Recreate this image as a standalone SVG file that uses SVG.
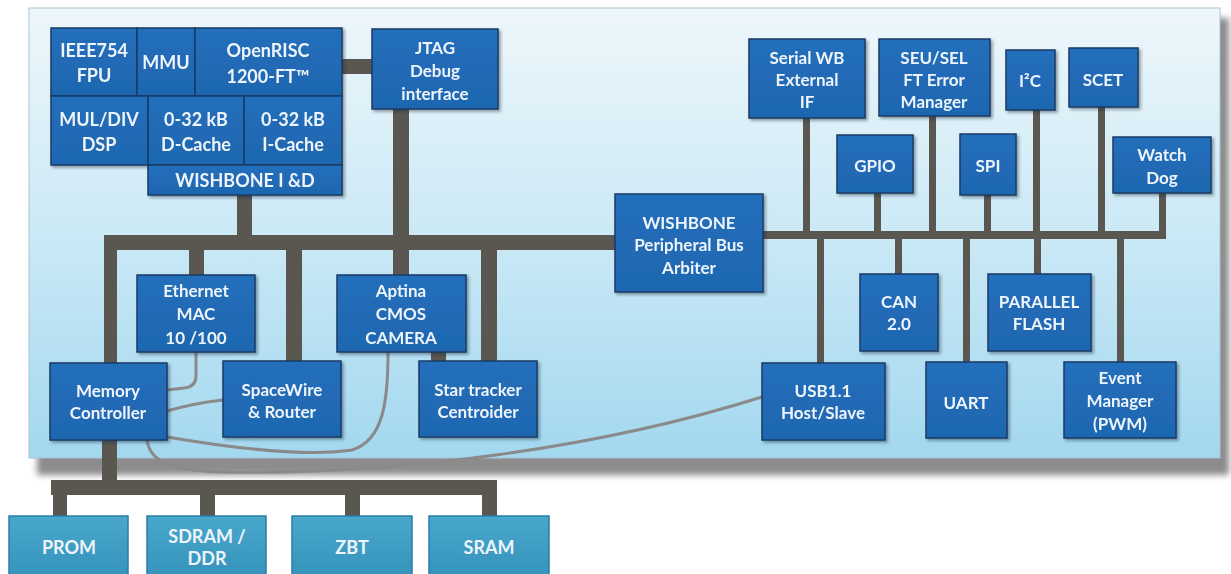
<svg xmlns="http://www.w3.org/2000/svg" width="1231" height="574" viewBox="0 0 1231 574">
  <defs>
    <linearGradient id="panelGrad" x1="0" y1="0" x2="0" y2="1">
      <stop offset="0" stop-color="#eef7fb"/>
      <stop offset="0.5" stop-color="#cbe9f6"/>
      <stop offset="1" stop-color="#a3d8ef"/>
    </linearGradient>
    <linearGradient id="boxGrad" x1="0" y1="0" x2="0" y2="1">
      <stop offset="0" stop-color="#246fbb"/>
      <stop offset="1" stop-color="#1e66b0"/>
    </linearGradient>
    <linearGradient id="memGrad" x1="0" y1="0" x2="0" y2="1">
      <stop offset="0" stop-color="#4aa7cc"/>
      <stop offset="1" stop-color="#3492bb"/>
    </linearGradient>
    <filter id="panelShadow" x="-5%" y="-5%" width="110%" height="115%">
      <feGaussianBlur stdDeviation="3"/>
    </filter>
    <filter id="shadow" x="-10%" y="-10%" width="125%" height="125%">
      <feDropShadow dx="2" dy="2" stdDeviation="1.5" flood-color="#1a2a3a" flood-opacity="0.45"/>
    </filter>
    <style>
      .box { fill: url(#boxGrad); stroke: #1a3a66; stroke-width: 1.5; }
      .mem { fill: url(#memGrad); stroke: #2a7ea5; stroke-width: 1.5; }
      .t { font-family: Lato, "Liberation Sans", sans-serif; font-weight: 700; font-size: 17px; fill: #eef4fb; text-anchor: middle; dominant-baseline: central; }
      .tc { font-size: 18px; }
      .tm { font-size: 18px; }
      .bus { fill: #5a5650; }
      .wire { fill: none; stroke: #8a8a8a; stroke-width: 3; stroke-linecap: round; }
    </style>
  </defs>

  <rect width="1231" height="574" fill="#ffffff"/>

  <!-- chip panel -->
  <rect x="37" y="18" width="1192" height="457" fill="#8c8c8c" filter="url(#panelShadow)"/>
  <rect x="29" y="8" width="1191" height="450" fill="url(#panelGrad)" stroke="#a9c3d2" stroke-width="1"/>

  <!-- bus bars and wires -->
  <g id="connectors">
    <!-- CPU to JTAG -->
    <rect class="bus" x="342" y="59" width="30" height="15"/>
    <!-- WISHBONE I&D drop -->
    <rect class="bus" x="237" y="195" width="15" height="42"/>
    <!-- JTAG down to camera -->
    <rect class="bus" x="393" y="109" width="16" height="166"/>
    <!-- main bus -->
    <rect class="bus" x="104" y="235" width="511" height="15"/>
    <rect class="bus" x="104" y="235" width="13" height="128"/>
    <rect class="bus" x="189" y="248" width="15" height="27"/>
    <rect class="bus" x="286" y="248" width="16" height="113"/>
    <rect class="bus" x="481" y="248" width="16" height="113"/>
    <rect class="bus" x="431" y="350" width="15" height="12"/>
    <!-- peripheral bus -->
    <rect class="bus" x="763" y="231" width="403" height="8"/>
    <rect class="bus" x="803" y="118" width="7" height="118"/>
    <rect class="bus" x="874" y="193" width="7" height="43"/>
    <rect class="bus" x="929" y="116" width="7" height="120"/>
    <rect class="bus" x="984" y="195" width="7" height="41"/>
    <rect class="bus" x="1033" y="110" width="7" height="126"/>
    <rect class="bus" x="1098" y="107" width="7" height="129"/>
    <rect class="bus" x="1159" y="193" width="7" height="43"/>
    <rect class="bus" x="817" y="236" width="7" height="127"/>
    <rect class="bus" x="895" y="236" width="7" height="38"/>
    <rect class="bus" x="963" y="236" width="7" height="126"/>
    <rect class="bus" x="1034" y="236" width="7" height="38"/>
    <rect class="bus" x="1117" y="236" width="7" height="126"/>
    <!-- external memory bus -->
    <rect class="bus" x="102" y="440" width="15" height="42"/>
    <rect class="bus" x="51" y="480" width="446" height="15"/>
    <rect class="bus" x="53" y="493" width="14" height="23"/>
    <rect class="bus" x="200" y="493" width="15" height="23"/>
    <rect class="bus" x="345" y="493" width="15" height="23"/>
    <rect class="bus" x="482" y="493" width="15" height="23"/>
    <!-- direct links to memory controller -->
    <path class="wire" d="M196,352 L196,376 Q196,387 184,388 L167,390"/>
    <path class="wire" d="M167,411 Q195,403 223,400"/>
    <path class="wire" d="M388,352 C388,400 384,440 352,450 C300,458 220,446 167,437"/>
    <path class="wire" d="M147,440 C150,460 166,470 220,472 C400,475 600,448 762,397"/>
  </g>

  <!-- processor core -->
  <g id="cpu" filter="url(#shadow)">
    <g id="fpu"><rect class="box" x="51" y="28" width="86" height="68"/>
      <text class="t tc" x="94" y="50">IEEE754</text><text class="t tc" x="94" y="75">FPU</text></g>
    <g id="mmu"><rect class="box" x="137" y="28" width="58" height="68"/>
      <text class="t tc" x="166" y="62">MMU</text></g>
    <g id="openrisc"><rect class="box" x="195" y="28" width="147" height="68"/>
      <text class="t tc" x="268" y="50">OpenRISC</text><text class="t tc" x="268" y="76">1200-FT™</text></g>
    <g id="muldiv"><rect class="box" x="51" y="96" width="97" height="69"/>
      <text class="t tc" x="99" y="119">MUL/DIV</text><text class="t tc" x="99" y="144">DSP</text></g>
    <g id="dcache"><rect class="box" x="148" y="96" width="96" height="69"/>
      <text class="t tc" x="196" y="119">0-32 kB</text><text class="t tc" x="196" y="144">D-Cache</text></g>
    <g id="icache"><rect class="box" x="244" y="96" width="98" height="69"/>
      <text class="t tc" x="293" y="119">0-32 kB</text><text class="t tc" x="293" y="144">I-Cache</text></g>
    <g id="wishbone-id"><rect class="box" x="148" y="165" width="194" height="30"/>
      <text class="t tc" x="245" y="180">WISHBONE I &amp;D</text></g>
  </g>

  <g id="jtag" filter="url(#shadow)"><rect class="box" x="372" y="29" width="126" height="80"/>
    <text class="t" x="435" y="47">JTAG</text><text class="t" x="435" y="70">Debug</text><text class="t" x="435" y="93">interface</text></g>

  <g id="arbiter" filter="url(#shadow)"><rect class="box" x="615" y="194" width="148" height="98"/>
    <text class="t" x="689" y="222">WISHBONE</text><text class="t" x="689" y="244">Peripheral Bus</text><text class="t" x="689" y="267">Arbiter</text></g>

  <g id="serial-wb" filter="url(#shadow)"><rect class="box" x="749" y="39" width="116" height="79"/>
    <text class="t" x="807" y="57">Serial WB</text><text class="t" x="807" y="79">External</text><text class="t" x="807" y="101">IF</text></g>
  <g id="seu-sel" filter="url(#shadow)"><rect class="box" x="879" y="39" width="111" height="77"/>
    <text class="t" x="934" y="57">SEU/SEL</text><text class="t" x="934" y="79">FT Error</text><text class="t" x="934" y="101">Manager</text></g>
  <g id="i2c" filter="url(#shadow)"><rect class="box" x="1006" y="50" width="49" height="60"/>
    <text class="t" x="1030" y="80">I²C</text></g>
  <g id="scet" filter="url(#shadow)"><rect class="box" x="1069" y="48" width="69" height="59"/>
    <text class="t" x="1103" y="79">SCET</text></g>
  <g id="gpio" filter="url(#shadow)"><rect class="box" x="837" y="135" width="76" height="58"/>
    <text class="t" x="875" y="165">GPIO</text></g>
  <g id="spi" filter="url(#shadow)"><rect class="box" x="960" y="134" width="56" height="61"/>
    <text class="t" x="988" y="165">SPI</text></g>
  <g id="watchdog" filter="url(#shadow)"><rect class="box" x="1113" y="137" width="98" height="56"/>
    <text class="t" x="1162" y="154">Watch</text><text class="t" x="1162" y="177">Dog</text></g>

  <g id="ethernet" filter="url(#shadow)"><rect class="box" x="137" y="275" width="118" height="77"/>
    <text class="t" x="196" y="290">Ethernet</text><text class="t" x="196" y="313">MAC</text><text class="t" x="196" y="337">10 /100</text></g>
  <g id="camera" filter="url(#shadow)"><rect class="box" x="337" y="275" width="129" height="77"/>
    <text class="t" x="401" y="290">Aptina</text><text class="t" x="401" y="313">CMOS</text><text class="t" x="401" y="337">CAMERA</text></g>
  <g id="memctrl" filter="url(#shadow)"><rect class="box" x="50" y="363" width="117" height="77"/>
    <text class="t" x="108" y="390">Memory</text><text class="t" x="108" y="412">Controller</text></g>
  <g id="spacewire" filter="url(#shadow)"><rect class="box" x="223" y="361" width="118" height="76"/>
    <text class="t" x="282" y="389">SpaceWire</text><text class="t" x="282" y="411">&amp; Router</text></g>
  <g id="startracker" filter="url(#shadow)"><rect class="box" x="419" y="361" width="118" height="76"/>
    <text class="t" x="478" y="389">Star tracker</text><text class="t" x="478" y="411">Centroider</text></g>

  <g id="usb" filter="url(#shadow)"><rect class="box" x="762" y="363" width="123" height="77"/>
    <text class="t" x="823" y="390">USB1.1</text><text class="t" x="823" y="412">Host/Slave</text></g>
  <g id="can" filter="url(#shadow)"><rect class="box" x="860" y="274" width="78" height="77"/>
    <text class="t" x="899" y="301">CAN</text><text class="t" x="899" y="323">2.0</text></g>
  <g id="parallel-flash" filter="url(#shadow)"><rect class="box" x="988" y="274" width="103" height="77"/>
    <text class="t" x="1039" y="301">PARALLEL</text><text class="t" x="1039" y="323">FLASH</text></g>
  <g id="uart" filter="url(#shadow)"><rect class="box" x="926" y="362" width="81" height="76"/>
    <text class="t" x="966" y="402">UART</text></g>
  <g id="event-manager" filter="url(#shadow)"><rect class="box" x="1064" y="362" width="112" height="76"/>
    <text class="t" x="1120" y="377">Event</text><text class="t" x="1120" y="400">Manager</text><text class="t" x="1120" y="423">(PWM)</text></g>

  <!-- external memories -->
  <g id="prom"><rect class="mem" x="9" y="516" width="119" height="64"/>
    <text class="t tm" x="69" y="547">PROM</text></g>
  <g id="sdram"><rect class="mem" x="147" y="516" width="119" height="64"/>
    <text class="t tm" x="207" y="536">SDRAM /</text><text class="t tm" x="207" y="558">DDR</text></g>
  <g id="zbt"><rect class="mem" x="292" y="516" width="120" height="64"/>
    <text class="t tm" x="352" y="547">ZBT</text></g>
  <g id="sram"><rect class="mem" x="429" y="516" width="120" height="64"/>
    <text class="t tm" x="489" y="547">SRAM</text></g>
</svg>
